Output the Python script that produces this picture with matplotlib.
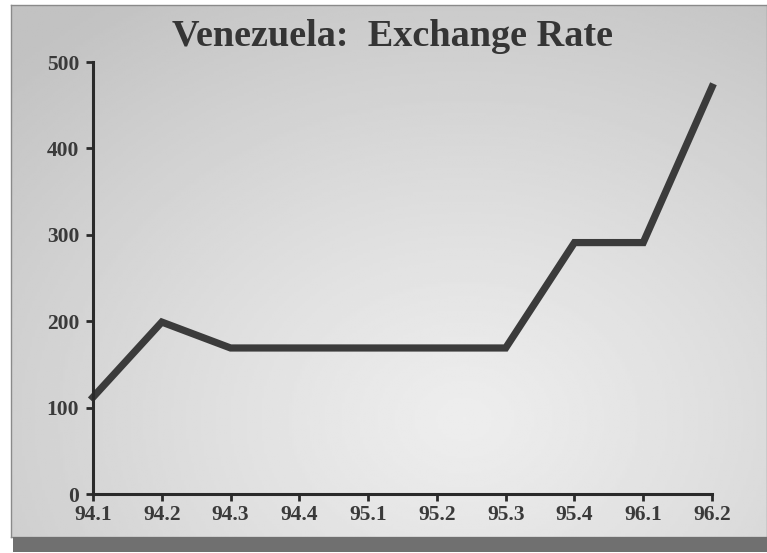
import numpy as np
import matplotlib.pyplot as plt
from matplotlib.patches import Rectangle

quarters = ['94.1', '94.2', '94.3', '94.4', '95.1', '95.2', '95.3', '95.4', '96.1', '96.2']
rate = [112, 199, 169, 169, 169, 169, 169, 291, 291, 471]
yticks = [0, 100, 200, 300, 400, 500]

W, H = 767, 553
fig = plt.figure(figsize=(W / 100, H / 100), dpi=100)
fig.patch.set_facecolor('white')

# panel shadow + panel with gradient
px0, py0 = 11 / W, 16 / H
fig.patches.append(Rectangle((px0 + 2 / W, 1 / H), 1, py0 - 1 / H, transform=fig.transFigure,
                             facecolor='#707070', edgecolor='none', zorder=0))
bg = fig.add_axes([px0, py0, 1 - px0, 1 - py0 - 5 / H], zorder=0)
gx, gy = np.meshgrid(np.linspace(0, 1, 300), np.linspace(0, 1, 220))
d = np.sqrt(((gx - 0.6) / 0.85) ** 2 + ((gy - 0.78) / 0.95) ** 2)
shade = 0.93 - 0.17 * np.clip(d, 0, 1) ** 1.2
bg.imshow(shade, cmap='gray', vmin=0, vmax=1, extent=[0, 1, 0, 1], aspect='auto', origin='upper')
bg.set_xticks([])
bg.set_yticks([])
for s in bg.spines.values():
    s.set_edgecolor('#8a8a8a')
    s.set_linewidth(1)

ax = fig.add_axes([93 / W, 1 - 494 / H, (712 - 93) / W, (494 - 62) / H], zorder=1)
ax.patch.set_alpha(0)
x = np.arange(len(quarters))
ax.plot(x, rate, color='#3b3b3b', lw=5.2, solid_joinstyle='miter', clip_on=False)
ax.set_xlim(0, len(quarters) - 1)
ax.set_ylim(0, 500)
ax.set_xticks(x)
ax.set_xticklabels(quarters)
ax.set_yticks(yticks)
for s in ['top', 'right']:
    ax.spines[s].set_visible(False)
for s in ['left', 'bottom']:
    ax.spines[s].set_linewidth(2.2)
    ax.spines[s].set_color('#2a2a2a')
ax.tick_params(direction='out', length=5, width=2, color='#2a2a2a')
ax.tick_params(axis='x', pad=3)
ax.tick_params(axis='y', pad=5)
for lab in ax.get_xticklabels() + ax.get_yticklabels():
    lab.set_fontfamily('Liberation Serif')
    lab.set_fontweight('bold')
    lab.set_fontsize(15.5)
    lab.set_color('#3a3a3a')

fig.text(0.512, 1 - 36 / H, 'Venezuela:  Exchange Rate', ha='center', va='center',
         fontsize=27.5, fontweight='bold', family='Liberation Serif', color='#353535')

fig.savefig('out.png', dpi=100)
